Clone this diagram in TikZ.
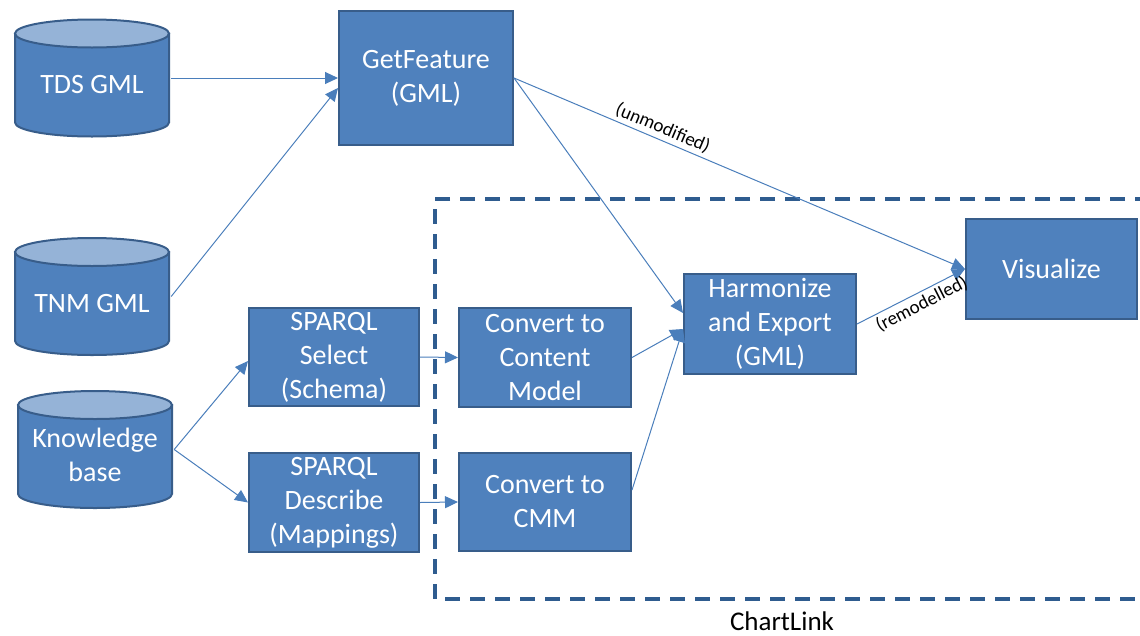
\documentclass[tikz,border=0pt]{standalone}
\usepackage{fontspec}
\setmainfont{Carlito}
\usetikzlibrary{arrows.meta,calc}
\definecolor{boxfill}{HTML}{4F81BD}
\definecolor{boxline}{HTML}{385D8A}
\definecolor{captop}{HTML}{95B3D7}
\definecolor{linkcol}{HTML}{4A7EBB}
\definecolor{dashcol}{HTML}{2F5C8F}
\tikzset{
  boxtext/.style={text=white, font=\fontsize{28}{34}\selectfont, align=center},
  procbox/.style={boxtext, rectangle, draw=boxline, line width=2pt, fill=boxfill, inner sep=0pt},
  cyltext/.style={boxtext, rectangle, inner sep=0pt, minimum width=158pt, minimum height=121pt},
  cylbody/.style={draw=boxline, line width=2pt, fill=boxfill},
  cylcap/.style={draw=boxline, line width=2pt, fill=captop},
  link/.style={draw=linkcol, line width=1pt, -{Triangle[length=13pt,width=12pt]}},
  edgelabel/.style={font=\fontsize{19}{22}\selectfont, text=black, sloped, inner sep=3pt},
  frame/.style={draw=dashcol, line width=3.5pt, dash pattern=on 15pt off 10pt}
}
\newcommand{\cylshape}[1]{%
  \begin{scope}[shift={#1}]
    \draw[cylbody] (-77,-44.5) -- (-77,44.5) arc[start angle=180, end angle=0, x radius=77, y radius=14] -- (77,-44.5) -- cycle;
    \draw[cylcap] (0,-44.5) ellipse[x radius=77, y radius=14];
  \end{scope}}
\begin{document}
\begin{tikzpicture}[x=1pt,y=-1pt]
\useasboundingbox (0,0) rectangle (1140,635);

\cylshape{(92,78)}
\cylshape{(92,296.5)}
\cylshape{(95,449.5)}
\node[cyltext] (tds) at (92,78) {\raisebox{-7pt}[\height][\depth]{TDS GML}};
\node[cyltext] (tnm) at (92,296.5) {\raisebox{-7pt}[\height][\depth]{TNM GML}};
\node[cyltext] (kb) at (95,449.5) {\raisebox{-8pt}[\height][\depth]{\begin{tabular}{@{}c@{}}Knowledge\\base\end{tabular}}};

\node[procbox, minimum width=174pt, minimum height=134pt] (gf) at (426,78) {GetFeature\\(GML)};
\node[procbox, minimum width=170pt, minimum height=98pt] (sel) at (334,357) {SPARQL\\Select\\(Schema)};
\node[procbox, minimum width=170pt, minimum height=99pt] (desc) at (334,502.5) {SPARQL\\Describe\\(Mappings)};
\node[procbox, minimum width=172pt, minimum height=99pt] (ccm) at (545,357.5) {Convert to\\Content\\Model};
\node[procbox, minimum width=172pt, minimum height=98pt] (cmm) at (545,502) {Convert to\\CMM};
\node[procbox, minimum width=172pt, minimum height=100pt] (har) at (770,324) {Harmonize\\and Export\\(GML)};
\node[procbox, minimum width=171pt, minimum height=100pt] (vis) at (1051.5,269) {Visualize};

\draw[frame] (1150,199) -- (435,199) -- (435,599) -- (1150,599);
\node[font=\fontsize{27}{32}\selectfont, text=black, inner sep=0pt, anchor=base] (cl) at (782,630) {ChartLink};

\draw[link] (tds.east) -- (gf.west);
\draw[link] (tnm.east) -- ($(gf.west)+(0,10)$);
\draw[link] (gf.east) -- node[edgelabel, above, pos=0.32] {(unmodified)} (vis.west);
\draw[link] (gf.east) -- ($(har.west)+(0,-11)$);
\draw[link] (kb.east) -- ($(sel.west)+(0,4)$);
\draw[link] (kb.east) -- (desc.west);
\draw[link] (sel.east) -- (ccm.west);
\draw[link] (desc.east) -- (cmm.west);
\draw[link] (ccm.east) -- ($(har.west)+(0,5)$);
\draw[link] ($(cmm.east)+(0,-12)$) -- ($(har.west)+(0,5)$);
\draw[link] (har.east) -- node[edgelabel, below, pos=0.55] {(remodelled)} (vis.west);
\end{tikzpicture}
\end{document}
